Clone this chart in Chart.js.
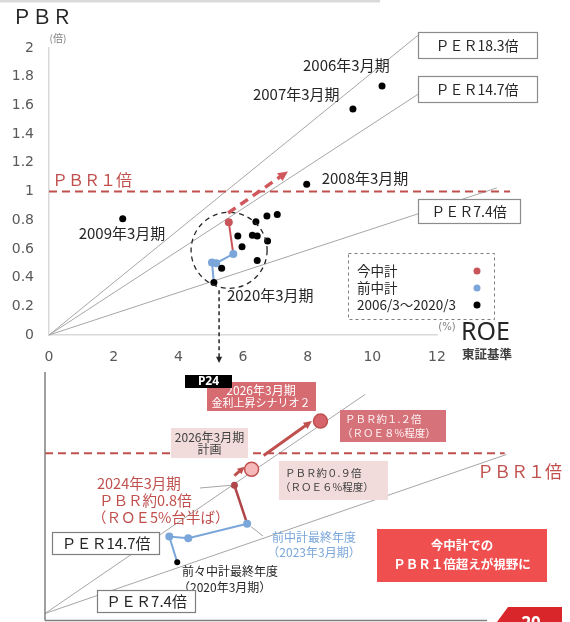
<!DOCTYPE html>
<html lang="ja">
<head>
<meta charset="utf-8">
<title>PBR・ROE</title>
<script src="https://cdn.jsdelivr.net/npm/chart.js@4/dist/chart.umd.min.js"></script>
<style>
  html, body { margin: 0; padding: 0; background: #fff; }
  #wrap { position: relative; width: 570px; height: 622px; overflow: hidden; }
  #wrap canvas { position: absolute; left: 0; top: 0; }
</style>
</head>
<body>
<div id="wrap">
  <canvas id="history-chart" width="570" height="622"></canvas>
  <canvas id="plan-chart" width="570" height="622"></canvas>
</div>
<script>
// 2006/3〜2020/3 actuals (ROE %, PBR 倍)
const historyRoe = [10.30, 9.40, 7.97, 2.28, 5.84, 5.97, 6.29, 6.44, 6.40, 6.74, 7.06, 6.76, 6.44, 5.34, 5.10];
const historyPbr = [1.735, 1.575, 1.05, 0.81, 0.69, 0.615, 0.695, 0.69, 0.79, 0.83, 0.84, 0.655, 0.52, 0.465, 0.365];
const historyLabels = ['2006年3月期', '2007年3月期', '2008年3月期', '2009年3月期',
    '', '', '', '', '', '', '', '', '', '', '2020年3月期'];

// 前中計 (2020/3 → 2023/3) and 今中計 (2023/3 → 2024/3)
const prevPlanRoe = [5.10, 5.04, 5.17, 5.70];
const prevPlanPbr = [0.365, 0.505, 0.50, 0.565];
const curPlanRoe = [5.70, 5.56];
const curPlanPbr = [0.565, 0.785];

const perMultiples = [18.3, 14.7, 7.4];
const pbrTarget = 1;

const roeTicks = [0, 2, 4, 6, 8, 10, 12];
const pbrTicks = [0, 0.2, 0.4, 0.6, 0.8, 1, 1.2, 1.4, 1.6, 1.8, 2];

// detail view (P24)
const detailPrevRoe = [3.84, 3.61, 4.16, 5.87];
const detailPrevPbr = [0.32, 0.48, 0.47, 0.56];
const detailActualRoe = [5.87, 5.5];
const detailActualPbr = [0.56, 0.8];
const planRoe = [6, 8];       // 計画, 金利上昇シナリオ２
const planPbr = [0.9, 1.2];
const detailPerMultiples = [14.7, 7.4];

const NUM_FONT = '"DejaVu Sans", sans-serif';
const JP_FONT = '"Noto Sans CJK JP", "Noto Sans", sans-serif';
const RED = '#c0504d';
const BLUE = '#7aa6da';
const LINE_GRAY = '#a6a6a6';

const zip = (xs, ys) => xs.map((x, i) => ({ x, y: ys[i] }));

function text(ctx, str, x, y, opts = {}) {
    const { size = 14, color = '#262626', weight = 'normal', align = 'left', font = JP_FONT } = opts;
    ctx.save();
    ctx.font = `${weight} ${size}px ${font}`;
    ctx.fillStyle = color;
    ctx.textAlign = align;
    ctx.textBaseline = 'middle';
    ctx.fillText(str, x, y);
    ctx.restore();
}

function box(ctx, x, y, w, h, fill, stroke) {
    ctx.save();
    ctx.fillStyle = fill;
    ctx.fillRect(x, y, w, h);
    if (stroke) {
        ctx.strokeStyle = stroke;
        ctx.lineWidth = 1.2;
        ctx.strokeRect(x + 0.5, y + 0.5, w - 1, h - 1);
    }
    ctx.restore();
}

function arrow(ctx, x1, y1, x2, y2, { color, width = 2, dash = [], head = 8 } = {}) {
    const a = Math.atan2(y2 - y1, x2 - x1);
    ctx.save();
    ctx.strokeStyle = color;
    ctx.fillStyle = color;
    ctx.lineWidth = width;
    ctx.setLineDash(dash);
    ctx.beginPath();
    ctx.moveTo(x1, y1);
    ctx.lineTo(x2 - Math.cos(a) * head * 0.8, y2 - Math.sin(a) * head * 0.8);
    ctx.stroke();
    ctx.setLineDash([]);
    ctx.beginPath();
    ctx.moveTo(x2, y2);
    ctx.lineTo(x2 - head * Math.cos(a - 0.45), y2 - head * Math.sin(a - 0.45));
    ctx.lineTo(x2 - head * Math.cos(a + 0.45), y2 - head * Math.sin(a + 0.45));
    ctx.closePath();
    ctx.fill();
    ctx.restore();
}

function line(ctx, x1, y1, x2, y2, color = LINE_GRAY, width = 1) {
    ctx.save();
    ctx.strokeStyle = color;
    ctx.lineWidth = width;
    ctx.beginPath();
    ctx.moveTo(x1, y1);
    ctx.lineTo(x2, y2);
    ctx.stroke();
    ctx.restore();
}

function ratioLine(per, xEnd) {
    return {
        data: [{ x: 0, y: 0 }, { x: xEnd, y: xEnd * per / 100 }],
        showLine: true, borderColor: LINE_GRAY, borderWidth: 1,
        pointRadius: 0, clip: false, order: 5
    };
}

function targetLine(xEnd) {
    return {
        data: [{ x: 0, y: pbrTarget }, { x: xEnd, y: pbrTarget }],
        showLine: true, borderColor: RED, borderWidth: 2, borderDash: [8, 5],
        pointRadius: 0, clip: false, order: 4
    };
}

function pathSeries(xs, ys, color, radii, width = 2) {
    return {
        data: zip(xs, ys), showLine: true,
        borderColor: color, borderWidth: width,
        pointRadius: radii, pointBackgroundColor: color, pointBorderWidth: 0,
        clip: false, order: 2
    };
}

// label placement relative to each labelled point
const yearLabelOffsets = {
    '2006年3月期': [-79, -21], '2007年3月期': [-100, -15], '2008年3月期': [15, -6],
    '2009年3月期': [-44, 15], '2020年3月期': [13, 13]
};

const historyDecor = {
    id: 'historyDecor',
    afterDatasetsDraw(chart) {
        const { ctx, scales: { x, y } } = chart;

        ctx.save();
        ctx.fillStyle = '#d9d9d9';
        ctx.fillRect(0, 0, 380, 2.5);
        ctx.restore();

        text(ctx, 'ＰＢＲ', 12, 16, { size: 20 });
        text(ctx, '(倍)', 58, 38, { size: 10, color: '#7f7f7f', align: 'center' });
        text(ctx, 'ＰＢＲ１倍', 52, 180, { size: 16, color: RED });

        // PER boxes cover the ends of the ratio lines
        box(ctx, 418, 32, 120, 27, '#fff', '#8c8c8c');
        text(ctx, 'ＰＥＲ18.3倍', 477, 46, { align: 'center' });
        box(ctx, 418, 76, 120, 27, '#fff', '#8c8c8c');
        text(ctx, 'ＰＥＲ14.7倍', 477, 90, { align: 'center' });
        box(ctx, 418, 199, 103, 25, '#fff', '#8c8c8c');
        text(ctx, 'ＰＥＲ7.4倍', 469, 212, { align: 'center' });

        historyLabels.forEach((label, i) => {
            if (!label) return;
            const [dx, dy] = yearLabelOffsets[label];
            text(ctx, label, x.getPixelForValue(historyRoe[i]) + dx,
                y.getPixelForValue(historyPbr[i]) + dy, { size: 15 });
        });

        // dashed ring round the recent years
        const cx = x.getPixelForValue(5.57), cy = y.getPixelForValue(0.59);
        ctx.save();
        ctx.strokeStyle = '#262626';
        ctx.lineWidth = 1.3;
        ctx.setLineDash([5, 4]);
        ctx.beginPath();
        ctx.arc(cx, cy, 38, 0, Math.PI * 2);
        ctx.stroke();
        ctx.restore();

        arrow(ctx, x.getPixelForValue(5.54), y.getPixelForValue(0.85),
            x.getPixelForValue(7.39), y.getPixelForValue(1.14),
            { color: '#d0585c', width: 3.5, dash: [9, 6], head: 11 });

        const ax = x.getPixelForValue(5.26);
        arrow(ctx, ax, cy + 40, ax, 363, { color: '#262626', width: 1.5, dash: [4, 3], head: 7 });

        // legend
        ctx.save();
        ctx.strokeStyle = '#7f7f7f';
        ctx.setLineDash([3, 3]);
        ctx.strokeRect(348.5, 253.5, 146, 66);
        ctx.restore();
        text(ctx, '今中計', 357, 271, { size: 13.5 });
        text(ctx, '前中計', 357, 288, { size: 13.5 });
        text(ctx, '2006/3〜2020/3', 357, 305, { size: 13.5 });
        [['#c9555b', 271], [BLUE, 288], ['#000', 305]].forEach(([c, yy]) => {
            ctx.save();
            ctx.fillStyle = c;
            ctx.beginPath();
            ctx.arc(477, yy, 3.5, 0, Math.PI * 2);
            ctx.fill();
            ctx.restore();
        });

        text(ctx, '(%)', 447, 327, { size: 10, color: '#7f7f7f', align: 'center', font: NUM_FONT });
        text(ctx, 'ROE', 461, 333, { size: 25, font: '"Noto Sans", sans-serif' });
        text(ctx, '東証基準', 462, 354, { size: 12.5, weight: 'bold', color: '#404040' });
    }
};

const planDecor = {
    id: 'planDecor',
    afterDatasetsDraw(chart) {
        const { ctx, scales: { x, y } } = chart;
        const px = v => x.getPixelForValue(v);
        const py = v => y.getPixelForValue(v);

        // frame
        line(ctx, 45, 372, 45, 620.5, '#7f7f7f', 1.5);
        line(ctx, 45, 620.5, 487, 620.5, '#7f7f7f', 1.5);

        // leaders
        line(ctx, 200, 488, px(detailActualRoe[1]) - 3, py(detailActualPbr[1]));
        line(ctx, px(detailPrevRoe[3]) + 4, py(detailPrevPbr[3]) + 3, 263, 536);

        box(ctx, 207, 382, 109, 29, '#d66c72');
        text(ctx, '2026年3月期', 261, 390, { size: 12, color: '#fff', align: 'center' });
        text(ctx, '金利上昇シナリオ２', 261, 403, { size: 11, color: '#fff', align: 'center' });
        box(ctx, 185, 375, 47, 13, '#000');
        text(ctx, 'P24', 208.5, 381.5, { size: 12, color: '#fff', weight: 'bold', align: 'center', font: '"Noto Sans", sans-serif' });

        box(ctx, 171, 428, 77, 30, '#f2dcdb');
        text(ctx, '2026年3月期', 209.5, 437, { size: 12, color: '#404040', align: 'center' });
        text(ctx, '計画', 209.5, 449, { size: 12, color: '#404040', align: 'center' });

        box(ctx, 340, 410, 106, 32, '#d6727a');
        text(ctx, 'ＰＢＲ約１.２倍', 345, 419, { size: 10.5, color: '#fff3f3' });
        text(ctx, '（ＲＯＥ８%程度）', 342, 433, { size: 10.5, color: '#fff3f3' });

        box(ctx, 279, 461, 109, 39, '#f2dcdb');
        text(ctx, 'ＰＢＲ約０.９倍', 285, 473, { size: 10.5, color: '#404040' });
        text(ctx, '（ＲＯＥ６%程度）', 280, 487, { size: 10.5, color: '#404040' });

        arrow(ctx, px(5.5), py(0.86), px(5.8), py(0.915), { color: RED, width: 3, head: 8 });
        arrow(ctx, px(6.35), py(0.985), px(7.75), py(1.2), { color: RED, width: 3, head: 9 });

        text(ctx, 'ＰＢＲ１倍', 477, 472, { size: 17, color: RED });

        text(ctx, '2024年3月期', 97, 483, { size: 14.5, color: RED });
        text(ctx, 'ＰＢＲ約0.8倍', 99, 500, { size: 14.5, color: RED });
        text(ctx, '（ＲＯＥ5%台半ば）', 92, 517, { size: 14.5, color: RED });

        text(ctx, '前中計最終年度', 314, 537, { size: 12, color: BLUE, align: 'center' });
        text(ctx, '（2023年3月期）', 314, 552, { size: 12, color: BLUE, align: 'center' });

        text(ctx, '前々中計最終年度', 182, 571, { size: 12 });
        text(ctx, '（2020年3月期）', 178, 587, { size: 12 });

        box(ctx, 52, 532, 108, 23, '#fff', '#7f7f7f');
        text(ctx, 'ＰＥＲ14.7倍', 106, 543.5, { size: 15, align: 'center' });
        box(ctx, 97, 590, 99, 23, '#fff', '#7f7f7f');
        text(ctx, 'ＰＥＲ7.4倍', 146.5, 601.5, { size: 15, align: 'center' });

        box(ctx, 377, 529, 170, 53, '#f04f4f');
        text(ctx, '今中計での', 462, 545, { size: 12.5, weight: 'bold', color: '#fff', align: 'center' });
        text(ctx, 'ＰＢＲ１倍超えが視野に', 462, 564, { size: 12.5, weight: 'bold', color: '#fff', align: 'center' });

        // page tab
        ctx.save();
        ctx.fillStyle = '#d9262b';
        ctx.beginPath();
        ctx.moveTo(497, 622);
        ctx.lineTo(508, 607);
        ctx.lineTo(562, 607);
        ctx.lineTo(562, 622);
        ctx.closePath();
        ctx.fill();
        ctx.restore();
        text(ctx, '20', 531, 624, { size: 17, weight: 'bold', color: '#fff', align: 'center', font: '"Noto Sans", sans-serif' });
    }
};

const baseOptions = {
    responsive: false,
    animation: false,
    devicePixelRatio: 1,
    events: [],
    plugins: { legend: { display: false }, tooltip: { enabled: false } }
};

const tickStyle = { color: '#595959', font: { family: NUM_FONT, size: 14 }, callback: v => String(v) };

new Chart(document.getElementById('history-chart'), {
    type: 'scatter',
    data: {
        datasets: [
            ...perMultiples.map((per, i) => ratioLine(per, [11.45, 11.45, 13.85][i])),
            targetLine(14.26),
            { data: zip(historyRoe, historyPbr), pointRadius: 3.5, pointBackgroundColor: '#000', pointBorderWidth: 0, order: 1 },
            pathSeries(prevPlanRoe, prevPlanPbr, BLUE, [0, 4, 4, 4]),
            pathSeries(curPlanRoe, curPlanPbr, '#c9555b', [0, 4])
        ]
    },
    options: {
        ...baseOptions,
        layout: { padding: { top: 48, right: 133, bottom: 257, left: 0 } },
        scales: {
            x: {
                type: 'linear', min: roeTicks[0], max: roeTicks[roeTicks.length - 1],
                afterBuildTicks: s => { s.ticks = roeTicks.map(v => ({ value: v })); },
                ticks: { ...tickStyle, padding: 14 },
                grid: { display: false, drawTicks: false },
                border: { color: '#d9d9d9', width: 1.5 },
                afterFit: s => { s.height = 30; }
            },
            y: {
                type: 'linear', min: pbrTicks[0], max: pbrTicks[pbrTicks.length - 1],
                afterBuildTicks: s => { s.ticks = pbrTicks.map(v => ({ value: v })); },
                ticks: { ...tickStyle, padding: 15 },
                grid: { display: false, drawTicks: false },
                border: { color: '#d9d9d9', width: 1.5 },
                afterFit: s => { s.width = 49; }
            }
        }
    },
    plugins: [historyDecor]
});

new Chart(document.getElementById('plan-chart'), {
    type: 'scatter',
    data: {
        datasets: [
            ...detailPerMultiples.map((per, i) => ratioLine(per, [9.3, 13.4][i])),
            targetLine(13.35),
            pathSeries(detailPrevRoe, detailPrevPbr, BLUE, [0, 4, 4, 4]),
            pathSeries(detailActualRoe, detailActualPbr, '#b0464a', [0, 3.5], 2.5),
            { data: [{ x: detailPrevRoe[0], y: detailPrevPbr[0] }], pointRadius: 3, pointBackgroundColor: '#000', pointBorderWidth: 0, order: 1 },
            {
                data: zip(planRoe, planPbr), pointRadius: 7,
                pointBackgroundColor: ['#f5b9b9', '#d5656b'], pointBorderColor: RED, pointBorderWidth: 1.5,
                clip: false, order: 0
            }
        ]
    },
    options: {
        ...baseOptions,
        layout: { padding: { top: 365, right: 6, bottom: 2, left: 45 } },
        scales: {
            x: { type: 'linear', display: false, min: 0, max: 15 },
            y: { type: 'linear', display: false, min: 0, max: 1.55 }
        }
    },
    plugins: [planDecor]
});
</script>
</body>
</html>
